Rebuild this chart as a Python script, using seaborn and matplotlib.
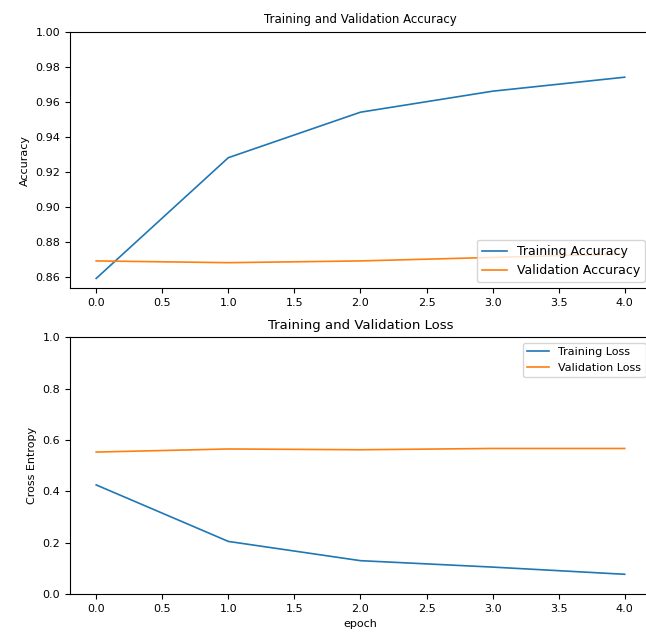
import seaborn as sns
import pandas as pd
import matplotlib.pyplot as plt

epochs = [0, 1, 2, 3, 4]
acc = [0.859, 0.928, 0.954, 0.966, 0.974]
val_acc = [0.869, 0.868, 0.869, 0.871, 0.873]
loss = [0.425, 0.205, 0.130, 0.105, 0.077]
val_loss = [0.553, 0.565, 0.562, 0.567, 0.567]

plt.rcParams['font.size'] = 8

df_acc = pd.DataFrame({'epoch': epochs * 2, 'value': acc + val_acc,
                       'series': ['Training Accuracy'] * 5 + ['Validation Accuracy'] * 5})
df_loss = pd.DataFrame({'epoch': epochs * 2, 'value': loss + val_loss,
                        'series': ['Training Loss'] * 5 + ['Validation Loss'] * 5})

fig, (ax1, ax2) = plt.subplots(2, 1, figsize=(6.46, 6.34), dpi=100)
fig.subplots_adjust(left=0.108, right=1.008, top=0.95, bottom=0.063, hspace=0.19)

sns.lineplot(data=df_acc, x='epoch', y='value', hue='series', ax=ax1, linewidth=1.2)
ax1.legend(loc='lower right', fontsize=9)
ax1.set_ylabel('Accuracy')
ax1.set_xlabel('')
ax1.set_ylim([min(ax1.get_ylim()), 1])
ax1.set_title('Training and Validation Accuracy', fontsize=8.5)

sns.lineplot(data=df_loss, x='epoch', y='value', hue='series', ax=ax2, linewidth=1.2)
ax2.legend(loc='upper right', fontsize=8)
ax2.set_ylabel('Cross Entropy')
ax2.set_ylim([0, 1.0])
ax2.set_title('Training and Validation Loss', fontsize=9.5)
ax2.set_xlabel('epoch')

plt.savefig('out.png')
